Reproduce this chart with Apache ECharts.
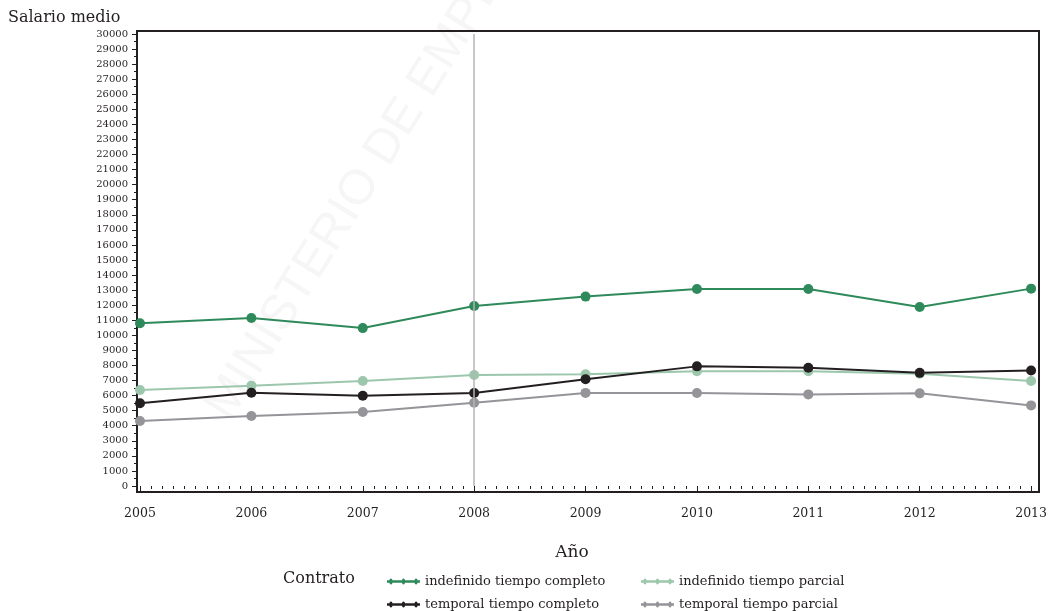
<!DOCTYPE html>
<html>
<head>
<meta charset="utf-8">
<script src="https://cdn.jsdelivr.net/npm/echarts@6/dist/echarts.min.js"></script>
<style>
  html, body { margin: 0; padding: 0; background: #fff; }
  #main { width: 1050px; height: 611px; }
</style>
</head>
<body>
<div id="main"></div>
<script>
  var years = [2005, 2006, 2007, 2008, 2009, 2010, 2011, 2012, 2013];
  var names = ['indefinido tiempo completo', 'indefinido tiempo parcial',
               'temporal tiempo completo', 'temporal tiempo parcial'];
  var indefCompleto = [10800, 11150, 10480, 11950, 12570, 13070, 13080, 11880, 13100];
  var indefParcial  = [6370, 6660, 6970, 7370, 7420, 7620, 7620, 7450, 6970];
  var tempCompleto  = [5490, 6190, 5990, 6170, 7080, 7940, 7850, 7510, 7670];
  var tempParcial   = [4310, 4650, 4910, 5530, 6180, 6170, 6080, 6150, 5350];
  var colors = ['#2f8a5b', '#9dc7ac', '#231f20', '#949499'];

  var serif = 'DejaVu Serif';
  var ink = '#231f20';
  // linea con tres puntos para la leyenda
  var icon = 'path://M0,2.4H31V3.6H0Z M2.2,3a1.5,1.5 0 1,1 3,0a1.5,1.5 0 1,1 -3,0Z' +
             'M14,3a1.5,1.5 0 1,1 3,0a1.5,1.5 0 1,1 -3,0Z' +
             'M25.8,3a1.5,1.5 0 1,1 3,0a1.5,1.5 0 1,1 -3,0Z';

  function pairs(vals) {
    var out = [];
    for (var i = 0; i < years.length; i++) out.push([years[i], vals[i]]);
    return out;
  }

  function serie(idx, vals) {
    return {
      name: names[idx],
      type: 'line',
      xAxisIndex: 1,
      yAxisIndex: 1,
      data: pairs(vals),
      symbol: 'circle',
      symbolSize: 10,
      clip: false,
      lineStyle: { color: colors[idx], width: 2 },
      itemStyle: { color: colors[idx] }
    };
  }

  var myChart = echarts.init(document.getElementById('main'));

  var series = [
    serie(0, indefCompleto),
    serie(1, indefParcial),
    serie(2, tempCompleto),
    serie(3, tempParcial)
  ];
  series[0].markLine = {
    silent: true,
    symbol: 'none',
    label: { show: false },
    lineStyle: { color: '#b5b5b5', width: 1.5, type: 'solid' },
    data: [{ xAxis: 2008 }]
  };

  // una leyenda por entrada, en dos columnas
  function leyenda(idx, left, top) {
    return {
      data: [names[idx]],
      left: left,
      top: top,
      itemWidth: 33,
      itemHeight: 6,
      icon: icon,
      symbolKeepAspect: false,
      selectedMode: false,
      textStyle: { fontFamily: serif, fontSize: 13, color: ink }
    };
  }

  var option = {
    animation: false,
    backgroundColor: '#fff',
    color: colors,
    grid: [
      { left: 137, right: 11, top: 31, bottom: 119, show: true, z: 2,
        borderColor: ink, borderWidth: 2, backgroundColor: 'transparent' },
      { left: 140, right: 16, top: 34, bottom: 125 }
    ],
    xAxis: [
      { gridIndex: 0, type: 'value', show: false },
      {
        gridIndex: 1, type: 'value', min: 2005, max: 2013, interval: 1, offset: 6,
        axisLine: { show: false },
        axisTick: { show: true, length: 5, lineStyle: { color: ink, width: 1 } },
        minorTick: { show: true, splitNumber: 10, length: 3, lineStyle: { color: ink, width: 1 } },
        splitLine: { show: false },
        axisLabel: { margin: 15, fontFamily: serif, fontSize: 12.5, color: ink,
                     formatter: function (v) { return String(v); } }
      }
    ],
    yAxis: [
      { gridIndex: 0, type: 'value', show: false },
      {
        gridIndex: 1, type: 'value', min: 0, max: 30000, interval: 1000, offset: 3,
        axisLine: { show: false },
        axisTick: { show: true, length: 5, lineStyle: { color: ink, width: 1 } },
        minorTick: { show: true, splitNumber: 2, length: 3, lineStyle: { color: ink, width: 1 } },
        splitLine: { show: false },
        axisLabel: { margin: 9, fontFamily: serif, fontSize: 10, color: ink,
                     formatter: function (v) { return String(v); } }
      }
    ],
    legend: [
      leyenda(0, 382, 570),
      leyenda(1, 636, 570),
      leyenda(2, 382, 593),
      leyenda(3, 636, 593)
    ],
    graphic: [
      { type: 'text', x: 218, y: 415, rotation: 58 * Math.PI / 180, z: -10, silent: true,
        style: { text: 'MINISTERIO DE EMPLEO Y SEGURIDAD SOCIAL', fill: '#f6f6f6',
                 font: '49px "Liberation Sans"', align: 'left', verticalAlign: 'middle' } },
      { type: 'text', x: 8, y: 18, z: 10,
        style: { text: 'Salario medio', fill: ink, font: '16px "DejaVu Serif"',
                 align: 'left', verticalAlign: 'middle' } },
      { type: 'text', x: 572, y: 553, z: 10,
        style: { text: 'Año', fill: ink, font: '17px "DejaVu Serif"',
                 align: 'center', verticalAlign: 'middle' } },
      { type: 'text', x: 283, y: 579, z: 10,
        style: { text: 'Contrato', fill: ink, font: '16px "DejaVu Serif"',
                 align: 'left', verticalAlign: 'middle' } }
    ],
    series: series
  };

  myChart.setOption(option);
</script>
</body>
</html>
